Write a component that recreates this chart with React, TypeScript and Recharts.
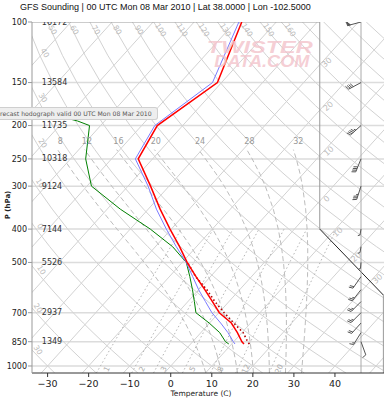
import React from 'react';
import { ComposedChart, Line, Area, Scatter, XAxis, YAxis, ReferenceLine } from 'recharts';

// skew-T coordinates: plotted x = T + SKEW * log10(1000 / p)
const SKEW = 75.7;
const X_MIN = -33.8;
const X_MAX = 51.95;
const P_TOP = 100;
const P_BOTTOM = 1048;
const BOX_RIGHT = 36.3; // right edge of the main box
const BOX_CORNER_P = 400;
const SIDE_CORNER_P = 622;
const BARB_X = 46.35;

// sounding
const LEVELS = [863, 850, 800, 750, 700, 650, 600, 550, 500, 450, 400, 350, 300, 250, 200, 150, 100];
const TEMP = [13.0, 12.0, 8.9, 5.3, 0.1, -4.0, -8.5, -13.5, -18.8, -24.1, -30.3, -37.1, -44.5, -53.5, -56.2, -51.0, -58.4];
const WETBULB = [10.8, 9.9, 6.6, 2.7, -1.7, -5.7, -10.0, -14.3, -19.0, -24.9, -31.2, -38.0, -45.1, -54.2, -56.8, -52.2, -59.1];
const DEW_LEVELS = [863, 850, 800, 750, 700, 650, 600, 550, 500, 450, 400, 350, 300, 250, 200, 194, 170];
const DEWPOINT = [9.3, 8.0, 4.6, -0.1, -5.6, -8.4, -11.5, -15.0, -19.0, -25.8, -35.1, -46.8, -58.9, -66.3, -72.7, -76.6, -99.7];
const PARCEL_LEVELS = [863, 850, 800, 750, 700, 650, 600, 550, 500];
const PARCEL = [14.3, 13.4, 10.3, 5.9, 1.3, -3.4, -8.0, -13.6, -18.7];

const HEIGHT_LEVELS = [100, 150, 200, 250, 300, 400, 500, 700, 850];
const HEIGHTS = [16172, 13584, 11735, 10318, 9124, 7144, 5526, 2937, 1349];

const WIND_LEVELS = [100, 150, 200, 250, 300, 400, 450, 500, 550, 600, 650, 700, 750, 800, 850];
const WIND_DIR = [255, 242, 228, 202, 198, 190, 190, 185, 215, 218, 225, 225, 222, 212, 160];
const WIND_KT = [50, 40, 45, 40, 35, 5, 5, 5, 20, 25, 25, 25, 20, 15, 10];

// diagram background
const PRESSURE_TICKS = [100, 150, 200, 250, 300, 400, 500, 700, 850, 1000];
const TEMP_TICKS = [-30, -20, -10, 0, 10, 20, 30, 40];
const ISOTHERMS = [-110, -100, -90, -80, -70, -60, -50, -40, -30, -20, -10, 0, 10, 20, 30, 40, 50];
const DRY_ADIABATS = [-30, -20, -10, 0, 10, 20, 30, 40, 50, 60, 70, 80, 90, 100, 110, 120, 130, 140, 150, 160, 170, 180, 190, 200];
const MOIST_ADIABATS = [8, 12, 16, 20, 24, 28, 32];
const MIXING_RATIOS = [1, 2, 3, 5, 8, 12, 20];
const GRID_LEVELS = [1048, 1000, 950, 900, 850, 800, 750, 700, 650, 600, 550, 500, 450, 400, 350, 300, 275, 250, 235, 225, 200, 175, 150, 125, 100];

const ISOTHERM_LABELS = [-30, -20, -10, 0, 10, 20, 30];
const ISOTHERM_LABEL_P = [132, 177, 239, 329, 411, 486, 562];
const DRY_LEFT_LABELS = [40, 30, 20, 10, 0, -10, -20, -30];
const DRY_LEFT_LABEL_P = [123, 166, 225, 294, 392, 526, 678, 898];
const DRY_TOP_LABELS = [50, 60, 70, 80, 90, 100, 110, 120, 130, 140, 150, 160];
const DRY_TOP_LABEL_P = 105.5;
const MOIST_TOP_P = 235;
const MOIST_LABEL_P = 222;
const MIXING_TOP_P = 400;
const MIXING_LABEL_P = 1020;

const sx = (t: number, p: number) => t + SKEW * Math.log10(1000 / p);
const dryTemp = (th: number, p: number) => (th + 273.15) * Math.pow(p / 1000, 0.2857) - 273.15;
const esat = (tc: number) => 6.112 * Math.exp((17.67 * tc) / (tc + 243.5));
const moistTemp = (thetaW: number, pTarget: number) => {
  const slope = (tk: number, pp: number) => {
    const es = esat(tk - 273.15);
    const rs = (0.622 * es) / (pp - es);
    return (287.04 * tk + 2.501e6 * rs) / (1005.7 + (2.501e6 * 2.501e6 * rs * 0.622) / (287.04 * tk * tk)) / pp;
  };
  let t = thetaW + 273.15;
  let p = 1000;
  const n = 60;
  const dp = (pTarget - 1000) / n;
  for (let i = 0; i < n; i++) {
    const k1 = slope(t, p);
    const k2 = slope(t + k1 * dp, p + dp);
    t += ((k1 + k2) / 2) * dp;
    p += dp;
  }
  return t - 273.15;
};
const mixTemp = (w: number, p: number) => {
  const es = ((w / 1000) * p) / (0.622 + w / 1000);
  const l = Math.log(es / 6.112);
  return (243.5 * l) / (17.67 - l);
};

type Pt = { x: number; p: number | null };
const joinSegments = (segs: Pt[][]): Pt[] => segs.flatMap((s) => [...s, { x: s[s.length - 1].x, p: null }]);
const profile = (ps: number[], ts: number[]) => ps.map((p, i) => ({ x: sx(ts[i], p), p }));

const isothermData = joinSegments(ISOTHERMS.map((t) => [P_BOTTOM, P_TOP].map((p) => ({ x: sx(t, p), p }))));
const dryData = joinSegments(DRY_ADIABATS.map((th) => GRID_LEVELS.map((p) => ({ x: sx(dryTemp(th, p), p), p }))));
const moistLevels = [...GRID_LEVELS.filter((p) => p > MOIST_TOP_P), MOIST_TOP_P];
const moistData = joinSegments(MOIST_ADIABATS.map((tw) => moistLevels.map((p) => ({ x: sx(moistTemp(tw, p), p), p }))));
const mixLevels = GRID_LEVELS.filter((p) => p >= MIXING_TOP_P);
const mixData = joinSegments(MIXING_RATIOS.map((w) => mixLevels.map((p) => ({ x: sx(mixTemp(w, p), p), p }))));
const pressureData = joinSegments(PRESSURE_TICKS.filter((p) => p > P_TOP).map((p) => [{ x: X_MIN, p }, { x: X_MAX, p }]));

const coverData = [{ x: BOX_RIGHT, p: BOX_CORNER_P }, { x: X_MAX + 1, p: SIDE_CORNER_P }];
const boxEdge = [{ x: X_MIN, p: P_TOP }, { x: BOX_RIGHT, p: P_TOP }, { x: BOX_RIGHT, p: BOX_CORNER_P }];
const diagEdge = [{ x: BOX_RIGHT, p: BOX_CORNER_P }, { x: X_MAX - 0.15, p: SIDE_CORNER_P }];
const sideEdge = [{ x: X_MAX - 0.15, p: SIDE_CORNER_P }, { x: X_MAX - 0.15, p: P_BOTTOM }];

const isoLabels = ISOTHERM_LABELS.map((t, i) => ({ x: sx(t, ISOTHERM_LABEL_P[i]), p: ISOTHERM_LABEL_P[i], text: String(Math.abs(t)) }));
const dryLabels = [
  ...DRY_LEFT_LABELS.map((th, i) => ({ x: sx(dryTemp(th, DRY_LEFT_LABEL_P[i]), DRY_LEFT_LABEL_P[i]) + 1, p: DRY_LEFT_LABEL_P[i], text: String(Math.abs(th)) })),
  ...DRY_TOP_LABELS.map((th) => ({ x: sx(dryTemp(th, DRY_TOP_LABEL_P), DRY_TOP_LABEL_P), p: DRY_TOP_LABEL_P, text: String(th) })),
];
const moistLabels = MOIST_ADIABATS.map((tw) => ({ x: sx(moistTemp(tw, MOIST_LABEL_P), MOIST_LABEL_P), p: MOIST_LABEL_P, text: String(tw) }));
const mixLabels = MIXING_RATIOS.map((w) => ({ x: sx(mixTemp(w, MIXING_LABEL_P), MIXING_LABEL_P), p: MIXING_LABEL_P, text: String(w) }));
const heightLabels = HEIGHT_LEVELS.map((p, i) => ({ x: X_MIN + 2.4, p, text: String(HEIGHTS[i]) }));
const winds = WIND_LEVELS.map((p, i) => ({ x: BARB_X, p, dir: WIND_DIR[i], kt: WIND_KT[i] }));
const watermark = [
  { x: 21.7, p: 118.9, text: 'TWISTER', w: 106 },
  { x: 22.2, p: 130.6, text: 'DATA.COM', w: 95 },
];

const textShape =
  (o: { size: number; color: string; angle?: number; dx?: number; dy?: number; anchor?: string }) =>
  (props: any) => {
    const { cx, cy, payload } = props;
    if (cx == null || cy == null) return <g />;
    const x = cx + (o.dx || 0);
    const y = cy + (o.dy || 0);
    return (
      <text
        x={x}
        y={y}
        transform={o.angle ? `rotate(${o.angle} ${x} ${y})` : undefined}
        textAnchor={o.anchor || 'middle'}
        dominantBaseline="central"
        fontSize={o.size}
        fill={o.color}
        fontFamily="DejaVu Sans"
      >
        {payload.text}
      </text>
    );
  };

const WatermarkShape = (props: any) => {
  const { cx, cy, payload } = props;
  if (cx == null || cy == null) return <g />;
  return (
    <text
      x={cx - payload.w / 2}
      y={cy}
      dominantBaseline="central"
      fontSize={17}
      fontWeight="bold"
      fontStyle="italic"
      fontFamily="Liberation Sans"
      fill="#f3c2ca"
      fillOpacity={0.8}
      textLength={payload.w}
      lengthAdjust="spacingAndGlyphs"
    >
      {payload.text}
    </text>
  );
};

const WindBarb = (props: any) => {
  const { cx, cy, payload } = props;
  if (cx == null || cy == null) return <g />;
  const a = (payload.dir * Math.PI) / 180;
  const ux = Math.sin(a);
  const uy = -Math.cos(a);
  const nx = -uy;
  const ny = ux;
  const len = payload.kt < 10 ? 6 : 14;
  const at = (d: number) => [cx + ux * d, cy + uy * d];
  const parts: React.ReactNode[] = [];
  let left = Math.round(payload.kt / 5) * 5;
  let d = len;
  let k = 0;
  while (left >= 50) {
    const [x1, y1] = at(d);
    const [x2, y2] = at(d - 3);
    parts.push(<polygon key={k++} points={`${x1},${y1} ${x1 + nx * 4},${y1 + ny * 4} ${x2},${y2}`} fill="#555" />);
    left -= 50;
    d -= 4;
  }
  while (left >= 10) {
    const [x1, y1] = at(d);
    parts.push(<line key={k++} x1={x1} y1={y1} x2={x1 + nx * 4 + ux * 1.5} y2={y1 + ny * 4 + uy * 1.5} />);
    left -= 10;
    d -= 1.8;
  }
  if (left >= 5) {
    const [x1, y1] = at(d);
    parts.push(<line key={k++} x1={x1} y1={y1} x2={x1 + nx * 2 + ux} y2={y1 + ny * 2 + uy} />);
  }
  const [ex, ey] = at(len);
  return (
    <g stroke="#555" strokeWidth={1}>
      <line x1={cx} y1={cy} x2={ex} y2={ey} />
      {parts}
    </g>
  );
};

const lineProps = { dot: false, activeDot: false, isAnimationActive: false, legendType: 'none' as const, dataKey: 'p' };

const fmtTemp = (v: number) => (v < 0 ? `\u2212${Math.abs(v)}` : String(v));

export default function App() {
  return (
    <div style={{ position: 'absolute', left: 0, top: 0, width: 388, height: 400, background: '#fff' }}>
      <div
        style={{
          position: 'absolute',
          left: 20,
          top: 2,
          fontFamily: 'Liberation Sans',
          fontSize: 9,
          color: '#111',
          whiteSpace: 'nowrap',
        }}
      >
        GFS Sounding | 00 UTC Mon 08 Mar 2010 | Lat 38.0000 | Lon -102.5000
      </div>
      <ComposedChart width={388} height={400} margin={{ top: 22, right: 4, bottom: 0, left: 0 }}>
        <XAxis
          type="number"
          dataKey="x"
          domain={[X_MIN, X_MAX]}
          allowDataOverflow
          ticks={TEMP_TICKS}
          tickFormatter={fmtTemp}
          height={27}
          tickSize={4}
          tickMargin={3}
          stroke="#333"
          tick={{ fill: '#222', fontSize: 9.5, fontFamily: 'DejaVu Sans' }}
        />
        <YAxis
          type="number"
          dataKey="p"
          scale="log"
          domain={[P_TOP, P_BOTTOM]}
          reversed
          allowDataOverflow
          ticks={PRESSURE_TICKS}
          width={32}
          tickSize={4}
          tickMargin={1}
          stroke="#999"
          tick={{ fill: '#222', fontSize: 8, fontFamily: 'DejaVu Sans' }}
        />
        <Line {...lineProps} data={pressureData} stroke="#dcdcdc" strokeWidth={1.5} />
        <Line {...lineProps} data={isothermData} stroke="#d2d2d2" strokeWidth={1} />
        <Line {...lineProps} data={dryData} stroke="#d2d2d2" strokeWidth={1} />
        <Line {...lineProps} data={moistData} stroke="#bdbdbd" strokeWidth={1} strokeDasharray="5 3" />
        <Line {...lineProps} data={mixData} stroke="#b5b5b5" strokeWidth={1} strokeDasharray="1.5 2.5" />
        <Area
          dataKey="p"
          data={coverData}
          baseValue={P_TOP}
          type="linear"
          stroke="none"
          fill="#fff"
          fillOpacity={1}
          isAnimationActive={false}
          legendType="none"
          activeDot={false}
        />
        <Line {...lineProps} data={boxEdge} stroke="#999" strokeWidth={1} />
        <Line {...lineProps} data={diagEdge} stroke="#222" strokeWidth={1} />
        <Line {...lineProps} data={sideEdge} stroke="#999" strokeWidth={1} />
        <ReferenceLine x={BARB_X} stroke="#aaa" />
        <Scatter data={isoLabels} isAnimationActive={false} shape={textShape({ size: 8, color: '#bbb', angle: -42, dx: 6, dy: -1 })} />
        <Scatter data={dryLabels} isAnimationActive={false} shape={textShape({ size: 7.5, color: '#bbb', angle: 58, dx: 2 })} />
        <Scatter data={moistLabels} isAnimationActive={false} shape={textShape({ size: 8, color: '#999', dx: 8 })} />
        <Scatter data={mixLabels} isAnimationActive={false} shape={textShape({ size: 7.5, color: '#aaa', angle: -65, dx: 8 })} />
        <Scatter data={watermark} isAnimationActive={false} shape={WatermarkShape} />
        <Scatter data={heightLabels} isAnimationActive={false} shape={textShape({ size: 8, color: '#333', anchor: 'start' })} />
        <Line {...lineProps} data={profile(DEW_LEVELS, DEWPOINT)} stroke="#008000" strokeWidth={1} />
        <Line {...lineProps} data={profile(LEVELS, WETBULB)} stroke="#7b7bff" strokeWidth={1} />
        <Line {...lineProps} data={profile(PARCEL_LEVELS, PARCEL)} stroke="#b00000" strokeWidth={1.6} strokeDasharray="1.5 2.5" />
        <Line {...lineProps} data={profile(LEVELS, TEMP)} stroke="#ff0000" strokeWidth={1.5} />
        <Scatter data={winds} isAnimationActive={false} shape={WindBarb} />
      </ComposedChart>
      <div
        style={{
          position: 'absolute',
          left: 8,
          top: 205,
          transform: 'translate(-50%, -50%) rotate(-90deg)',
          fontFamily: 'DejaVu Sans',
          fontSize: 7,
          fontWeight: 'bold',
          color: '#222',
          whiteSpace: 'nowrap',
        }}
      >
        P (hPa)
      </div>
      <div
        style={{
          position: 'absolute',
          left: 201,
          top: 393,
          transform: 'translate(-50%, -50%)',
          fontFamily: 'DejaVu Sans',
          fontSize: 7.5,
          color: '#222',
          whiteSpace: 'nowrap',
        }}
      >
        Temperature (C)
      </div>
      <div
        style={{
          position: 'absolute',
          left: 0,
          top: 107,
          width: 157,
          height: 11,
          background: '#eeeeee',
          border: '1px solid #cfcfcf',
          borderLeft: 'none',
          borderRadius: '0 3px 3px 0',
          overflow: 'hidden',
          whiteSpace: 'nowrap',
          fontFamily: 'DejaVu Sans',
          fontSize: 6.2,
          lineHeight: '11px',
          color: '#555',
        }}
      >
        <span style={{ marginLeft: -7 }}>Forecast hodograph valid 00 UTC Mon 08 Mar 2010</span>
      </div>
    </div>
  );
}
